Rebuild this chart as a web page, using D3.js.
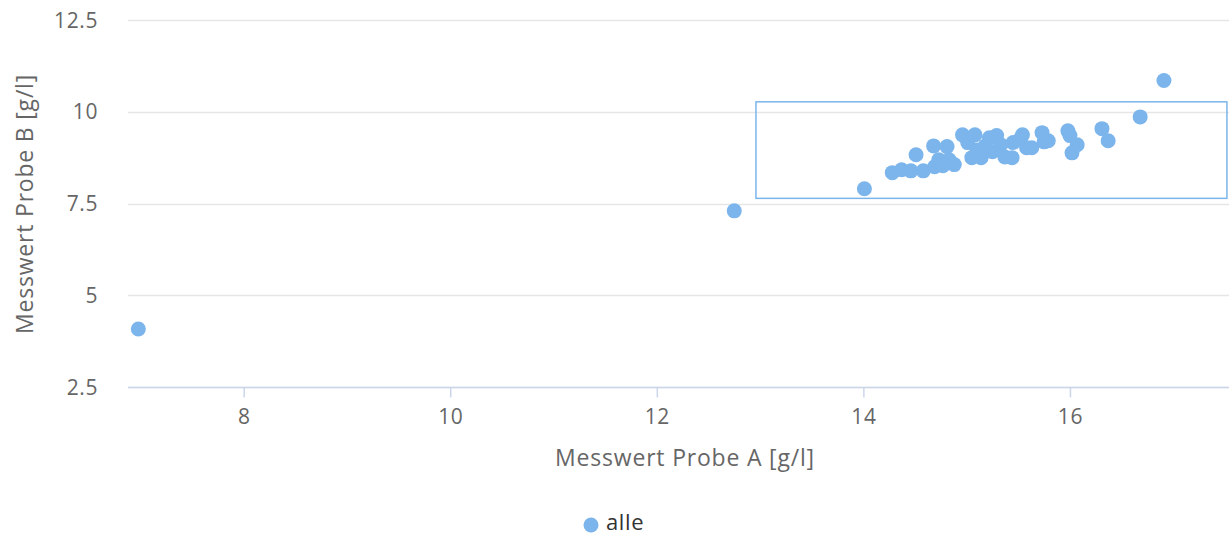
<!DOCTYPE html>
<html><head><meta charset="utf-8">
<script src="https://cdn.jsdelivr.net/npm/d3@7/dist/d3.min.js"></script>
<style>body{margin:0;background:#fff;} text{font-family:"Open Sans",sans-serif;}</style>
</head><body><svg id="c" width="1231" height="537"></svg>
<script>
const seriesName = "alle";
const xValues = [6.98,12.75,14.01,14.28,14.37,14.46,14.51,14.58,14.68,14.69,14.73,14.77,14.81,14.83,14.88,14.96,15.01,15.05,15.08,15.10,15.14,15.18,15.22,15.25,15.29,15.33,15.37,15.44,15.45,15.52,15.54,15.58,15.63,15.73,15.75,15.79,15.98,16.00,16.07,16.02,16.31,16.37,16.68,16.91];
const yValues = [4.08,7.30,7.90,8.34,8.42,8.39,8.83,8.39,9.07,8.50,8.69,8.53,9.05,8.69,8.56,9.37,9.16,8.75,9.37,8.96,8.75,9.07,9.29,8.91,9.35,9.10,8.77,8.75,9.16,9.26,9.37,9.02,9.02,9.43,9.18,9.21,9.48,9.35,9.10,8.88,9.54,9.21,9.86,10.85];
const xTicks = [8,10,12,14,16];
const yTicks = [2.5,5,7.5,10,12.5];
const xDomain = [6.88,17.54];
const yDomain = [2.5,12.5];
const highlight = {x0:12.96, x1:17.52, y0:7.64, y1:10.27};
const xTitle = "Messwert Probe A [g/l]";
const yTitle = "Messwert Probe B [g/l]";

const svg = d3.select("#c");
const L=128,R=1229,T=20,B=387;
const x = d3.scaleLinear().domain(xDomain).range([L,R]);
const y = d3.scaleLinear().domain(yDomain).range([B,T]);
const color="#7cb5ec";

// grid
svg.append("g").selectAll("line").data(yTicks).join("line")
  .attr("x1",L).attr("x2",R).attr("y1",d=>Math.round(y(d))+0.5).attr("y2",d=>Math.round(y(d))+0.5)
  .attr("stroke","#e6e6e6").attr("stroke-width",1.5);
// y labels
svg.append("g").selectAll("text").data(yTicks).join("text")
  .attr("x",98).attr("y",d=>y(d)+7.5).attr("text-anchor","end")
  .attr("fill","#666").style("font-size","21px").style("letter-spacing","0.6px").text(d=>d);
// x axis
const xa = svg.append("g").attr("transform",`translate(0,${B+0.5})`)
  .call(d3.axisBottom(x).tickValues(xTicks).tickSize(10).tickPadding(8).tickSizeOuter(0));
xa.select(".domain").attr("stroke","#ccd6eb").attr("stroke-width",1.5).attr("d",`M${L},0H${R}`);
xa.selectAll(".tick line").attr("stroke","#ccd6eb").attr("stroke-width",1.5);
xa.selectAll(".tick text").attr("fill","#666").attr("dy",null).attr("y",36)
  .style("font-size","21px").style("font-family","Open Sans").style("letter-spacing","0.6px");
// titles
svg.append("text").attr("x",685).attr("y",466).attr("text-anchor","middle")
  .attr("fill","#666").style("font-size","23px").style("letter-spacing","0.8px").text(xTitle);
svg.append("text").attr("transform",`translate(33,204) rotate(-90)`).attr("text-anchor","middle")
  .attr("fill","#666").style("font-size","23px").style("letter-spacing","0.8px").text(yTitle);
// highlight rect
svg.append("rect").attr("x",x(highlight.x0)).attr("y",y(highlight.y1))
  .attr("width",x(highlight.x1)-x(highlight.x0)).attr("height",y(highlight.y0)-y(highlight.y1))
  .attr("fill","none").attr("stroke",color).attr("stroke-width",1.5);
// points
const pts = xValues.map((v,i)=>({x:v,y:yValues[i]}));
svg.append("g").selectAll("circle").data(pts).join("circle")
  .attr("cx",d=>x(d.x)).attr("cy",d=>y(d.y)).attr("r",7.5).attr("fill",color);
// legend
svg.append("circle").attr("cx",591).attr("cy",525).attr("r",7.5).attr("fill",color);
svg.append("text").attr("x",606).attr("y",530).attr("fill","#333").style("font-size","22px").style("letter-spacing","0.6px").text(seriesName);
</script></body></html>
